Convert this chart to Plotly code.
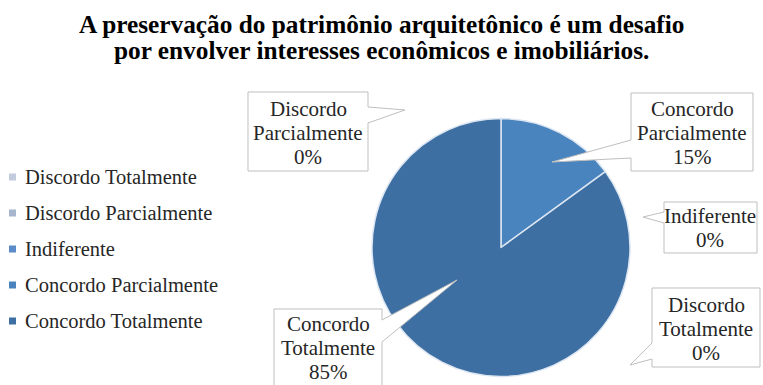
import plotly.graph_objects as go

# ---- data ----
labels = ["Discordo Totalmente", "Discordo Parcialmente", "Indiferente",
          "Concordo Parcialmente", "Concordo Totalmente"]
values = [0, 0, 0, 15, 85]
colors = ["#C3CCDD", "#A6B6CE", "#5B8CC9", "#4A84BE", "#3E6FA3"]
title_lines = ["A preservação do patrimônio arquitetônico é um desafio",
               "por envolver interesses econômicos e imobiliários."]

W, H = 763, 385
FONT = "Liberation Serif"

def px(x):
    return x / W

def py(y):
    return 1 - y / H

fig = go.Figure()
fig.add_trace(go.Pie(
    labels=labels, values=values, sort=False, direction="clockwise", rotation=0,
    marker=dict(colors=colors, line=dict(color="#DCE6F2", width=1.5)),
    textinfo="none", showlegend=False,
    domain=dict(x=[px(372), px(630)], y=[py(377), py(118)]),
))

# ---- callouts (layout) ----
callouts = {
    "Discordo Parcialmente": dict(box=(248, 92, 368, 171), side="right", base=(107, 123), tip=(405, 110), tc=(308, 133)),
    "Concordo Parcialmente": dict(box=(631, 93, 753, 171), side="left", base=(140, 158), tip=(552, 162), tc=(692, 133)),
    "Indiferente": dict(box=(664, 202, 757, 253), side="left", base=(212, 223), tip=(643, 217), tc=(710, 228)),
    "Discordo Totalmente": dict(box=(652, 288, 760, 367), side="left", base=(343, 359), tip=(630, 365), tc=(706, 329)),
    "Concordo Totalmente": dict(box=(274, 309, 382, 395), side="right", base=(320, 342), tip=(457, 280), tc=(328, 348)),
}
LINE_PITCH = 24

shapes = []
annotations = []
total = sum(values)
for lab, val in zip(labels, values):
    c = callouts[lab]
    x0, y0, x1, y1 = c["box"]
    b0, b1 = c["base"]
    tx, ty = c["tip"]
    if c["side"] == "right":
        pts = [(x0, y0), (x1, y0), (x1, b0), (tx, ty), (x1, b1), (x1, y1), (x0, y1)]
    else:
        pts = [(x0, y0), (x1, y0), (x1, y1), (x0, y1), (x0, b1), (tx, ty), (x0, b0)]
    path = "M " + " L ".join(f"{px(a):.5f},{py(b):.5f}" for a, b in pts) + " Z"
    shapes.append(dict(type="path", path=path, xref="paper", yref="paper",
                       fillcolor="white", line=dict(color="#BFBFBF", width=1), layer="above"))
    pct = round(100 * val / total)
    lines = lab.split(" ") + [f"{pct}%"]
    cx, cy = c["tc"]
    n = len(lines)
    for k, ln in enumerate(lines):
        yk = cy + (k - (n - 1) / 2) * LINE_PITCH
        annotations.append(dict(text=ln, x=px(cx), y=py(yk), xref="paper", yref="paper",
                                xanchor="center", yanchor="middle", showarrow=False,
                                font=dict(family=FONT, size=21, color="#262626")))

# ---- legend (manual) ----
for i, (lab, col) in enumerate(zip(labels, colors)):
    yc = 177 + i * 36
    shapes.append(dict(type="rect", xref="paper", yref="paper",
                       x0=px(9), x1=px(16), y0=py(yc + 3.5), y1=py(yc - 3.5),
                       fillcolor=col, line=dict(width=0)))
    annotations.append(dict(text=lab, x=px(23), y=py(yc), xref="paper", yref="paper",
                            xanchor="left", yanchor="middle", showarrow=False,
                            font=dict(family=FONT, size=20.5, color="#262626")))

# ---- title (two lines with tight spacing) ----
for k, tl in enumerate(title_lines):
    annotations.append(dict(text=f"<b>{tl}</b>", x=0.5, y=py(24 + k * 26), xref="paper", yref="paper",
                            xanchor="center", yanchor="middle", showarrow=False,
                            font=dict(family=FONT, size=25.3, color="#000000")))

fig.update_layout(
    width=W, height=H, margin=dict(l=0, r=0, t=0, b=0),
    paper_bgcolor="white", plot_bgcolor="white",
    shapes=shapes, annotations=annotations,
)

fig.write_html("out.html")
